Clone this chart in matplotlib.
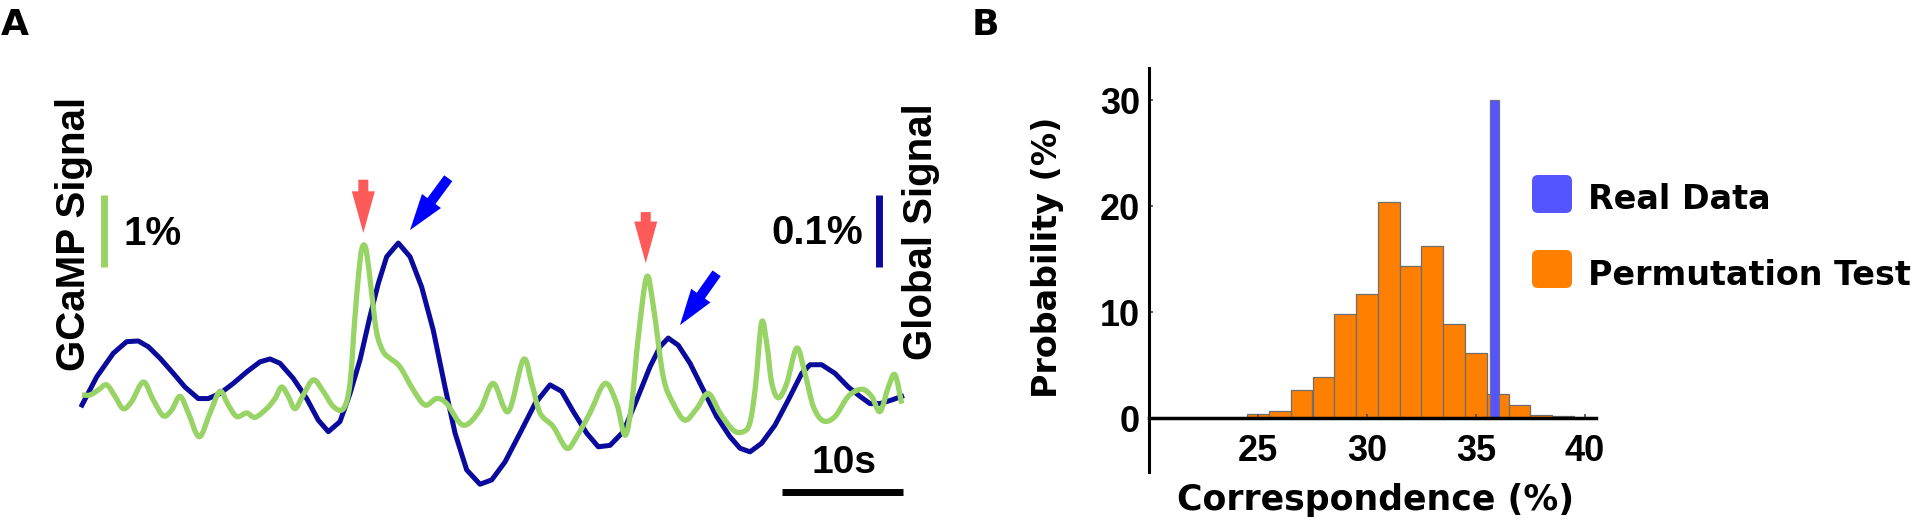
import matplotlib
matplotlib.use("Agg")
import numpy as np
import matplotlib.pyplot as plt
from matplotlib.patches import FancyBboxPatch, PathPatch
from matplotlib.path import Path

# ---------------- data ----------------
gcamp_t = [0.00, 0.66, 1.35, 2.04, 2.73, 3.41, 4.11, 5.07, 5.89, 6.72, 7.41, 8.10, 8.79, 9.69,
           10.58, 11.40, 12.09, 12.79, 13.61, 14.30, 15.26, 15.95, 16.50, 17.05, 17.60, 18.29,
           19.12, 19.94, 20.77, 21.60, 22.15, 22.56, 22.98, 23.25, 23.53, 23.94, 24.36, 24.90,
           25.45, 26.28, 27.38, 28.35, 29.31, 30.14, 31.51, 32.89, 33.99, 35.23, 36.47, 37.17,
           37.85, 38.95, 40.06, 40.88, 41.98, 43.22, 44.19, 44.88, 45.43, 45.98, 46.67, 47.22,
           48.04, 48.87, 49.83, 50.80, 51.76, 52.73, 53.83, 54.65, 55.21, 55.67, 56.17, 56.61,
           57.00, 57.55, 58.24, 59.07, 59.75, 60.44, 61.26, 62.23, 63.33, 64.44, 65.26, 65.95,
           66.64, 67.19, 67.74]
gcamp_v = [0.07, 0.07, 0.14, 0.21, 0.05, -0.12, -0.02, 0.25, 0.00, -0.22, -0.14, 0.05, -0.18, -0.51,
           -0.18, 0.12, -0.07, -0.23, -0.18, -0.24, -0.12, 0.02, 0.18, 0.05, -0.12, 0.07,
           0.28, 0.12, -0.09, -0.12, 0.23, 1.16, 1.94, 2.15, 2.04, 1.48, 0.93, 0.67,
           0.58, 0.46, 0.14, -0.07, 0.02, -0.05, -0.35, -0.14, 0.23, -0.16, 0.56, 0.23,
           -0.18, -0.37, -0.67, -0.51, -0.18, 0.23, -0.05, -0.49, -0.05, 0.88, 1.71, 1.30,
           0.32, -0.05, -0.28, -0.12, 0.09, -0.18, -0.42, -0.44, -0.31, 0.21, 1.08, 0.76,
           0.24, 0.03, 0.23, 0.72, 0.37, -0.09, -0.29, -0.23, 0.05, 0.15, 0.05, -0.16,
           0.18, 0.35, -0.05]

global_t = [0.00, 1.21, 2.59, 3.69, 4.65, 5.48, 6.45, 7.55, 8.51, 9.61, 10.44, 11.40, 12.50, 13.61,
            14.71, 15.54, 16.36, 17.46, 18.57, 19.53, 20.36, 21.32, 22.15, 22.98, 23.80, 24.49,
            25.18, 26.14, 27.11, 28.07, 29.03, 30.00, 30.83, 31.79, 32.89, 33.86, 34.96, 36.20,
            37.44, 38.68, 39.64, 40.60, 41.71, 42.67, 43.64, 44.74, 45.84, 46.94, 47.77, 48.45,
            49.28, 50.25, 51.35, 52.45, 53.55, 54.38, 55.21, 56.17, 57.27, 58.37, 59.48, 60.17,
            61.13, 62.23, 63.33, 64.30, 65.12, 65.95, 66.92, 67.74]
global_v = [-0.007, 0.032, 0.065, 0.081, 0.082, 0.074, 0.058, 0.037, 0.018, 0.002, 0.002, 0.009,
            0.023, 0.039, 0.053, 0.057, 0.051, 0.030, 0.002, -0.028, -0.044, -0.030, 0.009, 0.056,
            0.116, 0.162, 0.199, 0.218, 0.199, 0.157, 0.097, 0.018, -0.046, -0.097, -0.117, -0.111,
            -0.086, -0.046, -0.005, 0.021, 0.012, -0.016, -0.046, -0.065, -0.063, -0.044, 0.000,
            0.046, 0.074, 0.086, 0.076, 0.051, 0.014, -0.023, -0.051, -0.067, -0.072, -0.060,
            -0.035, 0.000, 0.037, 0.049, 0.049, 0.037, 0.018, 0.005, -0.005, -0.005, 0.000, 0.005]

# arrows: (time s, GCaMP level %) of tail and tip
red_arrow_tail = [(23.25, 3.06), (46.59, 2.61)]
red_arrow_tip = [(23.25, 2.32), (46.59, 1.90)]
blue_arrow_tail = [(30.27, 3.08), (52.45, 1.76)]
blue_arrow_tip = [(27.11, 2.36), (49.42, 1.04)]

# panel B histogram
corr_bins = [25, 26, 27, 28, 29, 30, 31, 32, 33, 34, 35, 36, 37, 38, 39]
perm_prob = [0.45, 0.7, 2.7, 3.9, 9.8, 11.7, 20.4, 14.4, 16.2, 8.9, 6.2, 2.3, 1.3, 0.35, 0.25]
real_corr = 35.85
real_prob = 30.0
x_ticks = [25, 30, 35, 40]
y_ticks = [0, 10, 20, 30]

# ---------------- style ----------------
W, H = 1920, 523
GREEN = "#98D366"
NAVY = "#0A0A9C"
RED = "#FF5A5A"
BLUE = "#0000FF"
ORANGE = "#FF8000"
REALBLUE = "#5555FF"
FONT = "Liberation Sans"
FONT2 = "DejaVu Sans"

fig = plt.figure(figsize=(W / 100, H / 100), dpi=100)


def box(x0, y0, x1, y1):
    return [x0 / W, 1 - y1 / H, (x1 - x0) / W, (y1 - y0) / H]


def smooth_path(x, y):
    """Catmull-Rom curve through the data points, as cubic Bezier segments."""
    pts = np.column_stack([x, y]).astype(float)
    n = len(pts)
    verts = [pts[0]]
    codes = [Path.MOVETO]
    for i in range(n - 1):
        p0 = pts[i - 1] if i > 0 else pts[i]
        p1, p2 = pts[i], pts[i + 1]
        p3 = pts[i + 2] if i + 2 < n else pts[i + 1]
        verts += [p1 + (p2 - p0) / 6.0, p2 - (p3 - p1) / 6.0, p2]
        codes += [Path.CURVE4] * 3
    return Path(verts, codes)


# ---------------- panel A ----------------
px_per_s = 12.1
px_per_pct = 72.0
y0_px = 400.0
ax_top, ax_bot, ax_l, ax_r = 60, 520, 82, 903
axb = fig.add_axes(box(ax_l, ax_top, ax_r, ax_bot))
axg = axb.twinx()
xlim = (0, (ax_r - ax_l) / px_per_s)
g_ylim = ((y0_px - ax_bot) / px_per_pct, (y0_px - ax_top) / px_per_pct)
for a in (axb, axg):
    a.set_xlim(*xlim)
    a.axis("off")
axg.set_ylim(*g_ylim)
axb.set_ylim(g_ylim[0] / 10, g_ylim[1] / 10)

axb.plot(global_t, global_v, color=NAVY, lw=3.6, solid_joinstyle="round", clip_on=False)
axg.add_patch(PathPatch(smooth_path(gcamp_t, gcamp_v), facecolor="none", edgecolor=GREEN,
                        lw=3.8, joinstyle="round", capstyle="butt", clip_on=False))

# scale bars
axg.plot([1.82, 1.82], [1.85, 2.85], color=GREEN, lw=5, solid_capstyle="butt", clip_on=False)
axg.text(3.39, 2.15, "1%", fontsize=29, fontweight="bold", family=FONT, ha="left", va="baseline")
axb.plot([65.87, 65.87], [0.185, 0.285], color=NAVY, lw=5, solid_capstyle="butt", clip_on=False)
axg.text(64.55, 2.17, "0.1%", fontsize=29, fontweight="bold", family=FONT, ha="right", va="baseline")
axg.plot([xlim[1] - 10, xlim[1]], [-1.28, -1.28], color="black", lw=5, solid_capstyle="butt",
         clip_on=False)
axg.text(xlim[1] - 4.85, -1.01, "10s", fontsize=28, fontweight="bold", family=FONT,
         ha="center", va="baseline")

for tail, tip in zip(red_arrow_tail, red_arrow_tip):
    axg.annotate("", xy=tip, xytext=tail, annotation_clip=False,
                 arrowprops=dict(arrowstyle="simple,head_length=3.0,head_width=1.66,tail_width=0.72",
                                 color=RED, mutation_scale=10, shrinkA=0, shrinkB=0, lw=0))
for tail, tip in zip(blue_arrow_tail, blue_arrow_tip):
    axg.annotate("", xy=tip, xytext=tail, annotation_clip=False,
                 arrowprops=dict(arrowstyle="simple,head_length=2.6,head_width=1.7,tail_width=0.72",
                                 color=BLUE, mutation_scale=10, shrinkA=0, shrinkB=0, lw=0))

# ---------------- panel B ----------------
bx_l, bx_r, by_t, by_b = 1149, 1596, 68, 472
ax2 = fig.add_axes(box(bx_l, by_t, bx_r, by_b))
ax2.set_xlim(20, 20 + (bx_r - bx_l) / 21.8)
ax2.set_ylim(-(by_b - 418.3) / 10.61, (418.3 - by_t) / 10.61)
ax2.bar(corr_bins, perm_prob, width=1.0, color=ORANGE, edgecolor="#6E6E6E", linewidth=0.9, zorder=1)
ax2.bar([real_corr], [real_prob], width=0.41, color=REALBLUE, edgecolor="#6E6E8E",
        linewidth=0.9, zorder=1.5)
ax2.spines["top"].set_visible(False)
ax2.spines["right"].set_visible(False)
ax2.spines["bottom"].set_position(("data", 0))
ax2.spines["left"].set_linewidth(2.2)
ax2.spines["bottom"].set_linewidth(2.5)
ax2.set_xticks(x_ticks)
ax2.set_yticks(y_ticks)
ax2.tick_params(axis="both", direction="in", length=3, width=1.3, color="#555555")
ax2.tick_params(axis="y", pad=6.5)
ax2.tick_params(axis="x", pad=11.5)
for lab in ax2.get_xticklabels() + ax2.get_yticklabels():
    lab.set_fontsize(26)
    lab.set_fontweight("bold")
    lab.set_family(FONT)
ax2.patch.set_alpha(0)

# ---------------- overlay texts / legend ----------------
ov = fig.add_axes([0, 0, 1, 1], facecolor="none")
ov.set_xlim(0, W)
ov.set_ylim(H, 0)
ov.axis("off")

ov.text(1, 35, "A", fontsize=26, fontweight="bold", family=FONT2, ha="left", va="baseline")
ov.text(972, 35, "B", fontsize=26, fontweight="bold", family=FONT2, ha="left", va="baseline")
ov.text(74, 233.5, "GCaMP Signal", rotation=90, fontsize=29, fontweight="bold", family=FONT,
        ha="center", va="center")
ov.text(920.5, 232, "Global Signal", rotation=90, fontsize=29, fontweight="bold", family=FONT,
        ha="center", va="center")
ov.text(1048, 257, "Probability (%)", rotation=90, fontsize=24, fontweight="bold", family=FONT2,
        ha="center", va="center")
ov.text(1375.5, 510, "Correspondence (%)", fontsize=25, fontweight="bold", family=FONT2,
        ha="center", va="baseline")

legend_items = [("Real Data", REALBLUE, 175, 209), ("Permutation Test", ORANGE, 250, 285)]
for label, col, ytop, ybase in legend_items:
    ov.add_patch(FancyBboxPatch((1532, ytop), 40, 38, boxstyle="round,pad=0,rounding_size=6",
                                facecolor=col, edgecolor="none"))
    ov.text(1588, ybase, label, fontsize=24, fontweight="bold", family=FONT2, ha="left",
            va="baseline")

fig.savefig("out.png", dpi=100)
